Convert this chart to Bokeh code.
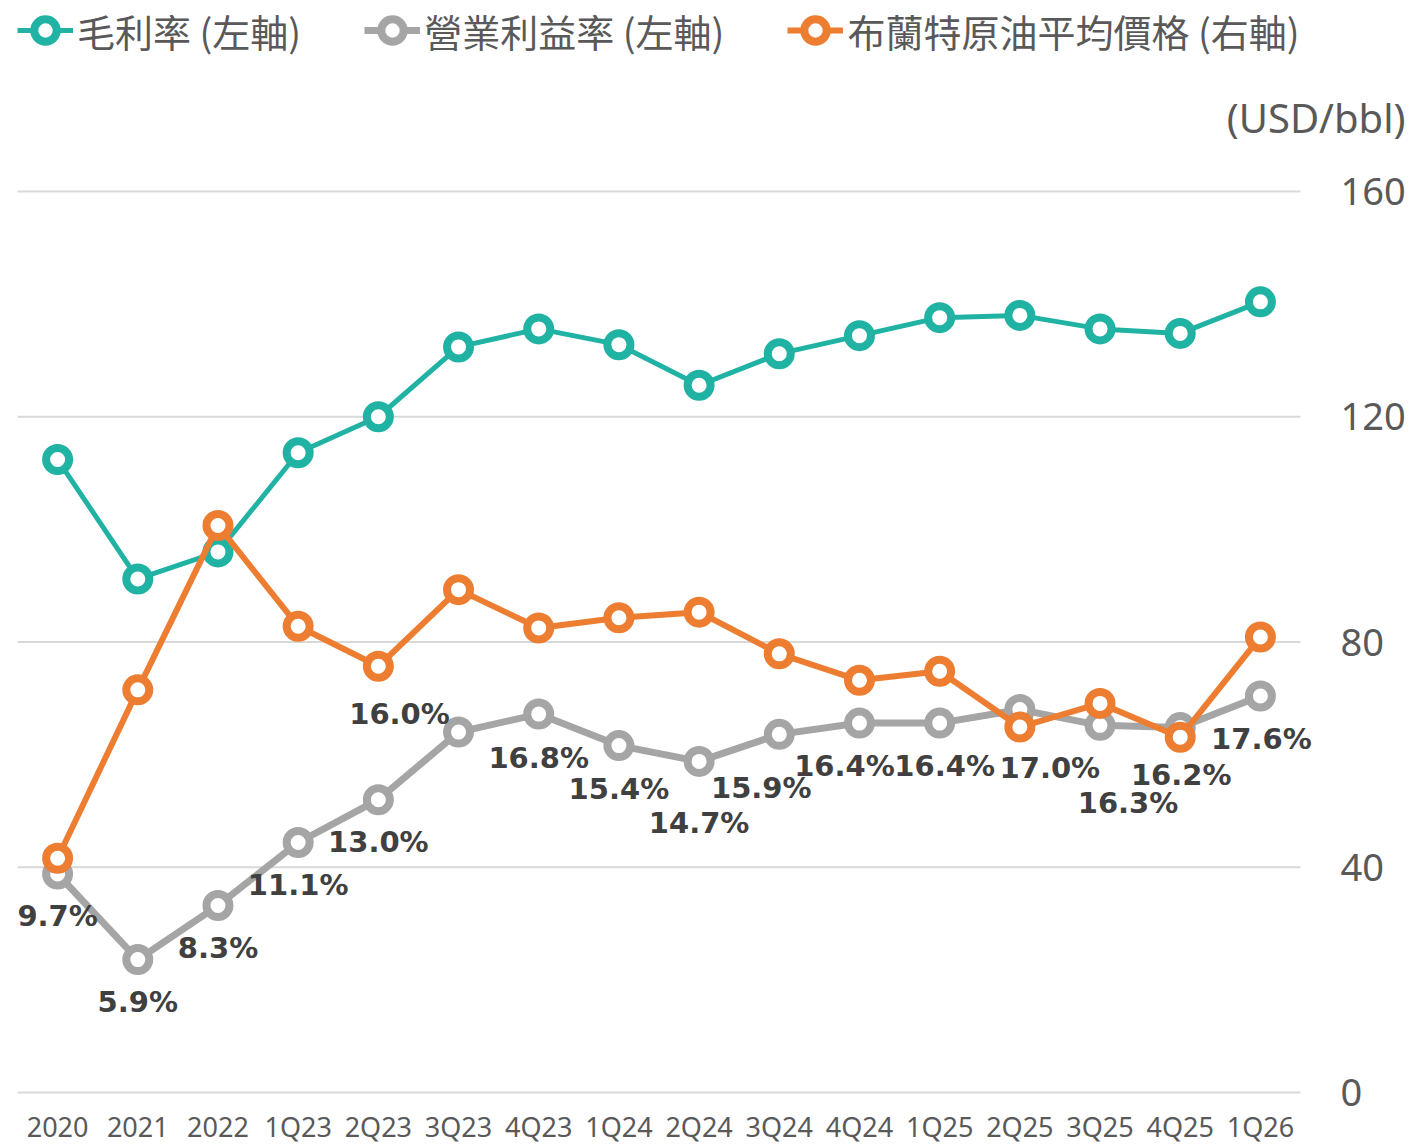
from bokeh.plotting import figure
from bokeh.models import ColumnDataSource, Range1d, Legend, LegendItem
from bokeh.core.properties import value
from bokeh.embed import file_html
from bokeh.resources import INLINE

# ---- data ----
periods = ["2020", "2021", "2022", "1Q23", "2Q23", "3Q23", "4Q23", "1Q24",
           "2Q24", "3Q24", "4Q24", "1Q25", "2Q25", "3Q25", "4Q25", "1Q26"]
gross_margin = [28.1, 22.8, 24.0, 28.4, 30.0, 33.1, 33.9, 33.2,
                31.4, 32.8, 33.6, 34.4, 34.5, 33.9, 33.7, 35.1]
operating_margin = [9.7, 5.9, 8.3, 11.1, 13.0, 16.0, 16.8, 15.4,
                    14.7, 15.9, 16.4, 16.4, 17.0, 16.3, 16.2, 17.6]
brent_price = [41.6, 71.5, 100.7, 82.8, 75.7, 89.3, 82.5, 84.3,
               85.3, 77.9, 73.2, 74.8, 64.9, 69.1, 63.1, 80.9]
right_ticks = [0, 40, 80, 120, 160]
left_max = 40  # left (percent) axis top, aligned with 160 on the right
legend_labels = ["毛利率 (左軸)", "營業利益率 (左軸)", "布蘭特原油平均價格 (右軸)"]
unit_label = "(USD/bbl)"

# label placement (pixel offsets, layout only)
lbl_dx = [0, 0, 0, 0, 0, -59, 0, 0, 0, -18, -15, 5, 30, 28, 1, 1]
lbl_dy = [42, 42, 42, 43, 42, -18, 44, 43, 62, 54, 43, 43, 58, 78, 47, 43]

TEAL = "#20B2A3"
GRAY = "#A5A5A5"
ORANGE = "#ED7D31"
TXT = "#595959"

idx = list(range(len(periods)))
n = len(periods)
src = ColumnDataSource(dict(
    x=idx, gm=gross_margin, om=operating_margin, brent=brent_price,
    lbl=[f"{v:.1f}%" for v in operating_margin], dx=lbl_dx, dy=lbl_dy))

# layout of the drawing area (pixels)
W, H = 1414, 1145
plot_left, plot_right, plot_top, plot_bottom = 17, 1300, 191, 1092
ppx = (plot_right - plot_left) / n
ppy = (plot_bottom - plot_top) / right_ticks[-1]
x_start = -0.5 - plot_left / ppx
x_end = n - 0.5 + (W - plot_right) / ppx
y_start = -(H - plot_bottom) / ppy
y_end = plot_bottom / ppy
k = left_max / right_ticks[-1]

p = figure(width=W, height=H, x_range=Range1d(x_start, x_end),
           y_range=Range1d(y_start, y_end),
           output_backend="svg", toolbar_location=None,
           min_border=0, x_axis_location=None, y_axis_location=None)
p.extra_y_ranges = {"pct": Range1d(y_start * k, y_end * k)}
p.outline_line_color = None
p.background_fill_color = "white"
p.border_fill_color = "white"
p.grid.visible = False

# horizontal gridlines (right axis ticks)
p.segment(x0=[-0.5] * len(right_ticks), x1=[n - 0.5] * len(right_ticks),
          y0=right_ticks, y1=right_ticks, line_color="#D9D9D9", line_width=2)
# right-axis tick labels
p.text(x=[n - 0.5] * len(right_ticks), y=right_ticks,
       text=[str(t) for t in right_ticks], x_offset=40,
       text_align="left", text_baseline="middle",
       text_font=value("Noto Sans"), text_font_size="38px", text_color=TXT)
# unit label
p.text(x=[n - 0.5], y=[right_ticks[-1]], text=[unit_label], x_offset=105,
       y_offset=-74, text_align="right", text_baseline="middle",
       text_font=value("Noto Sans"), text_font_size="40px", text_color=TXT)
# category labels
p.text(x=idx, y=[0] * n, text=periods, y_offset=34,
       text_align="center", text_baseline="middle",
       text_font=value("Noto Sans"), text_font_size="27px", text_color=TXT)

items = []
series = [("gm", TEAL, 5, "pct"), ("om", GRAY, 7, "pct"), ("brent", ORANGE, 6, "default")]
for (col, color, lw, rng), lab in zip(series, legend_labels):
    l = p.line("x", col, source=src, line_color=color, line_width=lw,
               y_range_name=rng)
    s = p.scatter("x", col, source=src, marker="circle", size=23,
                  fill_color="white", line_color=color, line_width=8,
                  y_range_name=rng)
    items.append(LegendItem(label=lab, renderers=[l, s]))

p.text("x", "om", text="lbl", source=src, y_range_name="pct",
       x_offset="dx", y_offset="dy", text_align="center",
       text_baseline="middle", text_font=value("DejaVu Sans"),
       text_font_style="bold", text_font_size="29px", text_color="#404040")

legend = Legend(items=items, orientation="horizontal", location=(plot_left, H - 60),
                margin=0, padding=0, spacing=63, label_standoff=4,
                glyph_width=56, glyph_height=60, label_height=60,
                label_text_font="Noto Sans CJK TC", label_text_font_size="38px",
                label_text_color=TXT, background_fill_alpha=0,
                border_line_color=None)
p.add_layout(legend, "center")

open("out.html", "w").write(file_html(p, INLINE))
